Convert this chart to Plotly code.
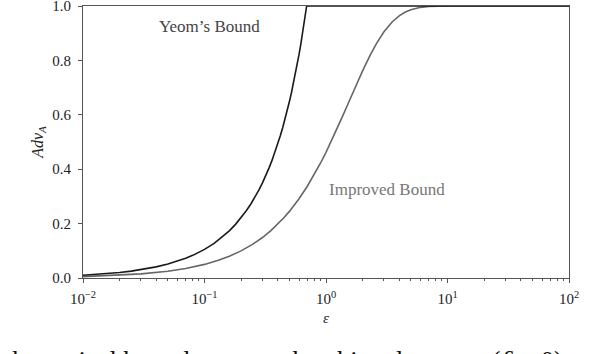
import plotly.graph_objects as go

# epsilon values and bounds
eps_yeom = [0.01, 0.015, 0.02, 0.025, 0.03, 0.04, 0.05, 0.06, 0.07, 0.08, 0.09, 0.1,
            0.12, 0.14, 0.16, 0.18, 0.2, 0.22, 0.24, 0.26, 0.28, 0.3, 0.32, 0.34,
            0.36, 0.38, 0.4, 0.42, 0.44, 0.46, 0.48, 0.5, 0.52, 0.54, 0.56, 0.58,
            0.6, 0.62, 0.64, 0.66, 0.68, 0.693, 1.0, 10.0, 100.0]
adv_yeom = [0.0100, 0.0151, 0.0202, 0.0253, 0.0305, 0.0408, 0.0513, 0.0618, 0.0725, 0.0833, 0.0942, 0.1052,
            0.1275, 0.1503, 0.1735, 0.1972, 0.2214, 0.2461, 0.2712, 0.2969, 0.3231, 0.3499, 0.3771, 0.4049,
            0.4333, 0.4623, 0.4918, 0.5220, 0.5527, 0.5841, 0.6161, 0.6487, 0.6820, 0.7160, 0.7507, 0.7860,
            0.8221, 0.8589, 0.8965, 0.9348, 0.9739, 1.0, 1.0, 1.0, 1.0]

eps_impr = [0.01, 0.02, 0.03, 0.05, 0.07, 0.1, 0.13, 0.16, 0.2, 0.25, 0.3, 0.35, 0.4, 0.45,
            0.5, 0.6, 0.7, 0.8, 0.9, 1.0, 1.1, 1.2, 1.35, 1.5, 1.7, 2.0, 2.3, 2.6, 3.0,
            3.5, 4.0, 4.5, 5.0, 6.0, 7.0, 8.0, 10.0, 100.0]
adv_impr = [0.005, 0.010, 0.015, 0.025, 0.035, 0.050, 0.065, 0.080, 0.0997, 0.1244, 0.1489, 0.1732, 0.1974, 0.2213,
            0.2449, 0.2913, 0.3364, 0.3799, 0.4219, 0.4621, 0.5005, 0.5370, 0.5885, 0.6351, 0.6911, 0.7616, 0.8178, 0.8617, 0.9051,
            0.9414, 0.9640, 0.9780, 0.9866, 0.9951, 0.9982, 0.9993, 0.9999, 1.0]

x_ticks = [0.01, 0.1, 1, 10, 100]
x_labels = ["10<sup>−2</sup>", "10<sup>−1</sup>", "10<sup>0</sup>", "10<sup>1</sup>", "10<sup>2</sup>"]
x_minor = [m * d for d in [0.01, 0.1, 1, 10] for m in range(2, 10)]
y_ticks = [0.0, 0.2, 0.4, 0.6, 0.8, 1.0]
y_labels = ["0.0", "0.2", "0.4", "0.6", "0.8", "1.0"]

serif = "Liberation Serif"
axcol = "#555555"

fig = go.Figure()
fig.add_trace(go.Scatter(x=eps_impr, y=adv_impr, mode="lines",
                         line=dict(color="#666666", width=1.6)))
fig.add_trace(go.Scatter(x=eps_yeom, y=adv_yeom, mode="lines",
                         line=dict(color="#1a1a1a", width=1.6)))

fig.update_layout(
    width=616, height=354,
    margin=dict(l=83, r=47, t=6, b=76),
    plot_bgcolor="white", paper_bgcolor="white",
    showlegend=False,
    font=dict(family=serif, size=15, color="#222"),
)
fig.update_xaxes(
    type="log", range=[-2, 2], tickvals=x_ticks, ticktext=x_labels,
    automargin=False, showgrid=False, zeroline=False,
    showline=True, linecolor=axcol, linewidth=1.2, mirror=True,
    ticks="outside", ticklen=4, tickcolor=axcol, ticklabelstandoff=3,
    ticklabeloverflow="allow",
    minor=dict(tickvals=x_minor, ticks="outside", ticklen=2, tickcolor=axcol, showgrid=False),
    title=dict(text="<i>ε</i>", standoff=6, font=dict(family=serif, size=15)),
)
fig.update_yaxes(
    range=[0, 1.00001], tickvals=y_ticks, ticktext=y_labels,
    automargin=False, showgrid=False, zeroline=False,
    showline=True, linecolor=axcol, linewidth=1.2, mirror=True,
    ticks="outside", ticklen=4, tickcolor=axcol, ticklabelstandoff=4,
    ticklabeloverflow="allow",
    title=dict(text="<i>Adv</i><sub><i>A</i></sub>", standoff=4, font=dict(family=serif, size=16)),
)

fig.add_annotation(x=-0.955, y=0.923, text="Yeom’s Bound", showarrow=False,
                   font=dict(family=serif, size=17, color="#444"))
fig.add_annotation(x=0.502, y=0.324, text="Improved Bound", showarrow=False,
                   font=dict(family=serif, size=17, color="#777"))
fig.add_annotation(x=0, xref="paper", xanchor="left", xshift=-80,
                   y=-0.305, yref="paper", yanchor="middle",
                   text="theoretical bounds on membership advantage (<i>δ</i> = 0)",
                   showarrow=False, font=dict(family=serif, size=26.5, color="#111"))

fig.write_html("out.html", config={"displayModeBar": False},
               post_script="document.body.style.margin='0';")
